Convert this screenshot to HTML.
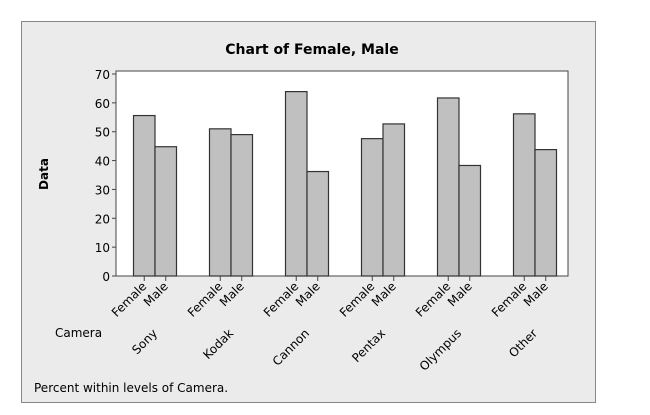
<!DOCTYPE html>
<html><head><meta charset="utf-8"><style>
body{margin:0;background:#fff;}
svg{display:block;font-family:"DejaVu Sans","Liberation Sans",sans-serif;}
</style></head><body>
<svg id="c" width="650" height="415" xmlns="http://www.w3.org/2000/svg">
<rect x="21.5" y="21.5" width="574" height="381" fill="#ebebeb" stroke="#888"/>
<text x="312" y="54" font-size="14" font-weight="bold" text-anchor="middle">Chart of Female, Male</text>
<rect x="116" y="71" width="452" height="205" fill="#fff" stroke="#444"/>
<text transform="translate(48,174) rotate(-90)" font-size="12" font-weight="bold" text-anchor="middle">Data</text>
<text x="55" y="337" font-size="12">Camera</text>
<text x="34" y="392" font-size="12">Percent within levels of Camera.</text>
<g id="g"></g>
</svg>
<script>
const categories=["Sony","Kodak","Cannon","Pentax","Olympus","Other"];
const series=["Female","Male"];
const female=[55.6,51,63.9,47.6,61.7,56.2];
const male=[44.8,49,36.2,52.7,38.3,43.8];
const yTicks=[0,10,20,30,40,50,60,70];
const NS="http://www.w3.org/2000/svg";
const g=document.getElementById('g');
const y=v=>276-v*(202/70);
const gx=i=>155+i*76;
const bw=21.5;
function mk(t,a){const e=document.createElementNS(NS,t);for(const k in a)e.setAttribute(k,a[k]);g.appendChild(e);return e;}
yTicks.forEach(v=>{
 const l=mk('line',{x1:112,x2:116,y1:y(v),y2:y(v),stroke:'#444'});
 
 
 const t=mk('text',{x:110,y:y(v)+5,'font-size':12,'text-anchor':'end'});
 t.textContent=v;
 
 
});
categories.forEach((c,i)=>{
 const cx=gx(i);
 [female[i],male[i]].forEach((v,j)=>{
  const x=j===0?cx-bw:cx;
  const r=mk('rect',{x:x,y:y(v),width:bw,height:276-y(v),fill:'#c0c0c0',stroke:'#333','stroke-width':1.2});
  
  
  const tx=x+bw/2;
  const tk=mk('line',{x1:tx,x2:tx,y1:276,y2:281,stroke:'#444'});
  
  
  const t=mk('text',{transform:`translate(${tx+3},${287}) rotate(-45)`,'font-size':12,'text-anchor':'end'});
  t.textContent=series[j];
  
  
 });
 const ct=mk('text',{transform:`translate(${cx+3},${334}) rotate(-45)`,'font-size':12,'text-anchor':'end'});
 ct.textContent=c;
 
 
});
</script>
</body></html>
